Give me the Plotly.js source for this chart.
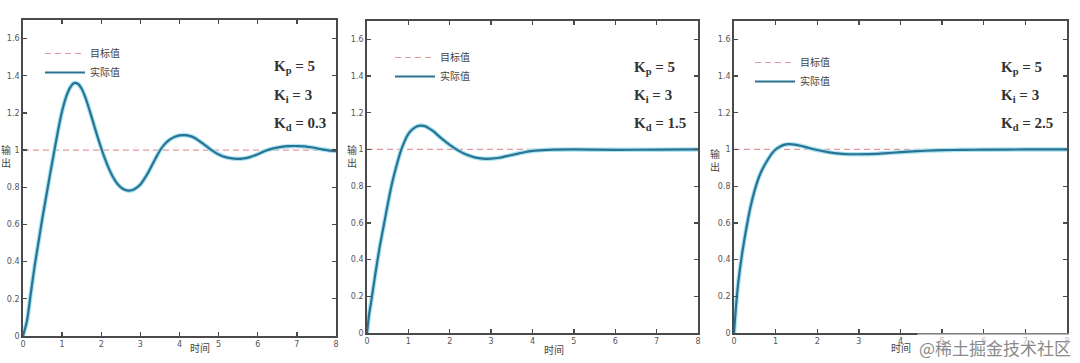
<!DOCTYPE html>
<html>
<head>
<meta charset="utf-8">
<script src="https://cdn.plot.ly/plotly-3.0.1.min.js"></script>
<style>html,body{margin:0;padding:0;background:#fff;}#chart{width:1080px;height:363px;}</style>
</head>
<body>
<div id="chart"></div>
<script>
// ---- data ----
const t1 = [0,0.1,0.2,0.3,0.4,0.5,0.6,0.7,0.8,0.9,1.0,1.1,1.2,1.3,1.4,1.5,1.6,1.7,1.8,1.9,2.0,2.1,2.2,2.3,2.4,2.5,2.6,2.7,2.8,2.9,3.0,3.1,3.2,3.3,3.4,3.5,3.6,3.7,3.8,3.9,4.0,4.1,4.2,4.3,4.4,4.6,4.8,5.0,5.2,5.4,5.6,5.8,6.0,6.2,6.4,6.6,6.8,7.0,7.2,7.4,7.6,7.8,8.0];
const y1 = [0,0.08,0.23,0.38,0.51,0.64,0.76,0.88,0.995,1.11,1.21,1.285,1.335,1.36,1.357,1.33,1.28,1.215,1.145,1.075,1.01,0.95,0.898,0.855,0.822,0.80,0.787,0.782,0.785,0.797,0.815,0.845,0.88,0.92,0.96,0.998,1.027,1.048,1.063,1.073,1.079,1.081,1.079,1.074,1.064,1.035,1.003,0.977,0.961,0.954,0.954,0.962,0.978,0.997,1.009,1.017,1.021,1.022,1.02,1.014,1.006,0.999,0.995];

const t2 = [0,0.05,0.1,0.2,0.3,0.4,0.5,0.6,0.7,0.8,0.9,1.0,1.1,1.2,1.3,1.4,1.5,1.6,1.8,2.0,2.2,2.4,2.6,2.8,3.0,3.2,3.4,3.6,3.8,4.0,4.4,5.0,6.0,7.0,8.0];
const y2 = [0,0.1,0.17,0.32,0.46,0.58,0.70,0.81,0.90,0.98,1.04,1.085,1.11,1.125,1.13,1.127,1.115,1.1,1.06,1.025,0.995,0.972,0.957,0.95,0.95,0.955,0.965,0.975,0.985,0.992,0.998,1.0,0.998,0.999,1.0];

const t3 = [0,0.05,0.1,0.2,0.3,0.4,0.5,0.6,0.7,0.8,0.9,1.0,1.1,1.2,1.3,1.4,1.6,1.8,2.0,2.2,2.4,2.6,2.8,3.0,3.4,3.8,4.2,4.6,5.0,5.5,6.0,7.0,8.0];
const y3 = [0,0.15,0.27,0.44,0.575,0.69,0.78,0.85,0.90,0.94,0.975,1.0,1.015,1.025,1.029,1.028,1.02,1.008,0.997,0.988,0.98,0.976,0.974,0.974,0.976,0.982,0.988,0.993,0.996,0.998,0.999,1.0,1.0];

const targetX = [0, 8];
const targetY = [1, 1];

const xTicks = [0,1,2,3,4,5,6,7,8];
const yTicks = [0,0.2,0.4,0.6,0.8,1,1.2,1.4,1.6];

const legendNames = ['目标值', '实际值'];
const kp = ['5','5','5'];
const ki = ['3','3','3'];
const kd = ['0.3','1.5','2.5'];
const yTitle = '输<br>出';
const xTitle = '时间';
const watermark = '@稀土掘金技术社区';

// ---- styling ----
const curveColor = '#2b7393';
const glowColor = '#a8e4f2';
const targetColor = '#e29a9f';
const axisColor = '#4a4a4a';
const cjk = '"Noto Sans CJK SC", "Noto Sans", sans-serif';

const series = [[t1,y1],[t2,y2],[t3,y3]];
const traces = [];
series.forEach((s, i) => {
  const n = i === 0 ? '' : String(i+1);
  const xa = 'x' + n, ya = 'y' + n, lg = 'legend' + n;
  traces.push({x: targetX, y: targetY, xaxis: xa, yaxis: ya, mode: 'lines', name: legendNames[0],
    line: {color: targetColor, width: 1.2, dash: '6px,4px'}, legend: lg, hoverinfo: 'skip'});
  traces.push({x: s[0], y: s[1], xaxis: xa, yaxis: ya, mode: 'lines', showlegend: false,
    line: {color: glowColor, width: 4.5, shape: 'spline', smoothing: 0.7}, hoverinfo: 'skip'});
  traces.push({x: s[0], y: s[1], xaxis: xa, yaxis: ya, mode: 'lines', name: legendNames[1],
    line: {color: curveColor, width: 2.2, shape: 'spline', smoothing: 0.7}, legend: lg});
});

const W = 1080, H = 363;
const xDomains = [[23, 336], [367, 698], [734, 1067]];
const yDomains = [[20, 336], [21, 333], [21, 333]];

const layout = {
  width: W, height: H,
  margin: {l: 0, r: 0, t: 0, b: 0},
  paper_bgcolor: '#ffffff', plot_bgcolor: '#ffffff',
  font: {family: '"DejaVu Sans", sans-serif', color: '#555'},
  annotations: [], showlegend: true
};

const legendPos = [[40, 39], [390, 43], [750, 48]];

for (let i = 0; i < 3; i++) {
  const n = i === 0 ? '' : String(i+1);
  const xd = xDomains[i], yd = yDomains[i];
  layout['xaxis' + n] = {
    domain: [xd[0]/W, xd[1]/W], anchor: 'y' + n, range: [0, 8],
    tickvals: xTicks, ticks: 'inside', ticklen: 4, tickwidth: 1.3, tickcolor: axisColor,
    showline: true, linecolor: axisColor, linewidth: 1.8, mirror: 'ticks',
    showgrid: false, zeroline: false, tickfont: {size: 8, color: '#555'}, fixedrange: true
  };
  layout['yaxis' + n] = {
    domain: [(H - yd[1])/H, (H - yd[0])/H], anchor: 'x' + n, range: [0, 1.7],
    tickvals: yTicks, ticks: 'inside', ticklen: 4, tickwidth: 1.3, tickcolor: axisColor,
    showline: true, linecolor: axisColor, linewidth: 1.8, mirror: 'ticks',
    showgrid: false, zeroline: false, tickfont: {size: 8, color: '#555'}, fixedrange: true
  };
  layout['legend' + n] = {
    x: legendPos[i][0]/W, y: (H - legendPos[i][1])/H, xanchor: 'left', yanchor: 'top',
    bgcolor: 'rgba(0,0,0,0)', font: {family: cjk, size: 10, color: '#444'},
    itemwidth: 40, tracegroupgap: 0
  };
  const xr = 'x' + n + ' domain', yr = 'y' + n + ' domain';
  const kx = [0.795, 0.80, 0.795][i];
  const kys = [0.85, 0.76, 0.67];
  const labels = ['<b>K<sub>p</sub> = ' + kp[i] + '</b>', '<b>K<sub>i</sub> = ' + ki[i] + '</b>', '<b>K<sub>d</sub> = ' + kd[i] + '</b>'];
  labels.forEach((lab, j) => {
    layout.annotations.push({xref: xr, yref: yr, x: kx, y: kys[j], xanchor: 'left', yanchor: 'middle',
      text: lab, showarrow: false, font: {family: '"Liberation Serif", "DejaVu Serif", serif', size: 15, color: '#333'}});
  });
}

// axis titles
const yTitleX = [6, 352, 715];
const yTitleY = [156, 156, 160];
const xTitleX = [200, 554, 901];
const xTitleY = [347, 349, 347];
for (let i = 0; i < 3; i++) {
  layout.annotations.push({xref: 'paper', yref: 'paper', x: yTitleX[i]/W, y: (H - yTitleY[i])/H,
    text: yTitle, showarrow: false, xanchor: 'center', yanchor: 'middle',
    font: {family: cjk, size: 10, color: '#444'}});
  layout.annotations.push({xref: 'paper', yref: 'paper', x: xTitleX[i]/W, y: (H - xTitleY[i])/H,
    text: xTitle, showarrow: false, xanchor: 'center', yanchor: 'middle',
    font: {family: cjk, size: 10, color: '#444'}});
}
layout.annotations.push({xref: 'paper', yref: 'paper', x: 1073/W, y: (H - 347)/H,
  text: watermark, showarrow: false, xanchor: 'right', yanchor: 'middle', bgcolor: 'rgba(255,255,255,0.6)',
  font: {family: '"Noto Sans CJK SC", sans-serif', size: 17, color: '#8a8a8a'}});

Plotly.newPlot('chart', traces, layout, {displayModeBar: false, staticPlot: true});
</script>
</body>
</html>
